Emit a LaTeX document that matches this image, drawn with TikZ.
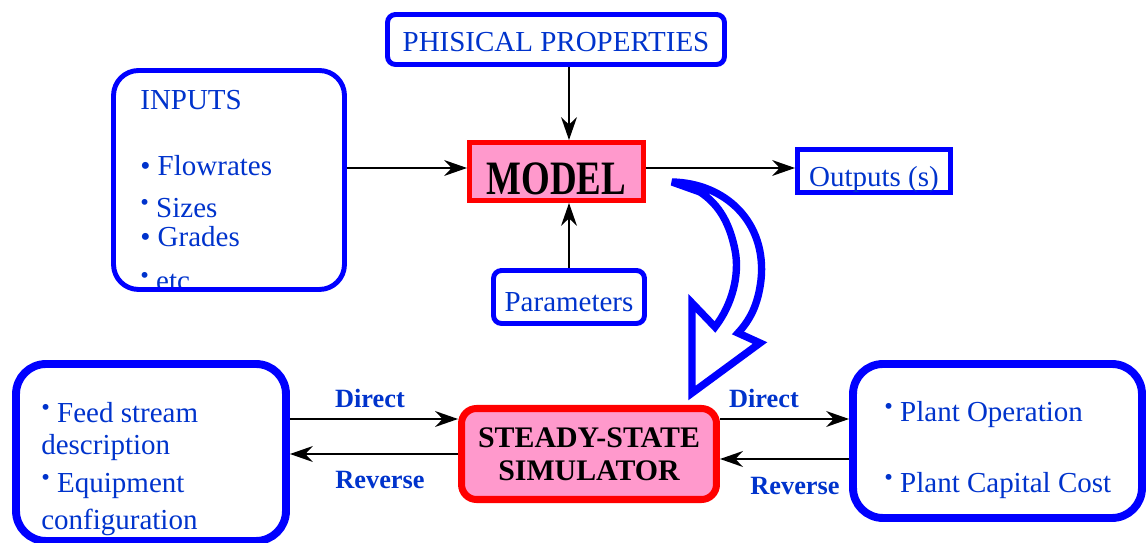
\documentclass[tikz,border=0pt]{standalone}
\usepackage{fontspec}
\setmainfont{Liberation Serif}
\usepackage{tikz}
\usetikzlibrary{arrows.meta,calc,positioning}
\definecolor{frameblue}{RGB}{0,0,255}
\definecolor{txtblue}{RGB}{0,51,204}
\definecolor{simpink}{RGB}{255,153,204}
\newcommand{\hb}{\raisebox{4.5pt}{\fontsize{14}{14}\selectfont\textbullet}}
\newcommand{\bigtxt}{\fontsize{16.5}{20}\selectfont}

\begin{document}
\begin{tikzpicture}[x=0.02cm, y=-0.02cm,
  bluebox/.style={draw=frameblue, line width=2.8pt, text=txtblue, font=\bigtxt, inner sep=0pt, text depth=0pt},
  thickbox/.style={draw=frameblue, line width=4.5pt, rounded corners=0.6cm, inner sep=0pt},
  redbox/.style={draw=red, fill=simpink, inner sep=0pt},
  boxtxt/.style={text=txtblue, font=\bigtxt, inner sep=0pt, anchor=base west},
  arr/.style={-{Stealth[length=13pt,width=9pt]}, line width=1.3pt},
  lbl/.style={text=txtblue, font=\fontsize{15}{18}\selectfont\bfseries}]
\useasboundingbox (0,0) rectangle (1146,543);

% upper part
\node[bluebox, rounded corners=0.16cm, minimum width=6.74cm, minimum height=1.0cm, text height=14.2pt] (phys) at (556,39.5) {PHISICAL PROPERTIES};
\node[redbox, line width=2.8pt, minimum width=3.48cm, minimum height=1.16cm, text height=26.6pt, text depth=0pt, font=\fontsize{21}{24}\selectfont\bfseries] (model) at (556.5,171.5) {\scalebox{1}[1.3]{MODEL}};
\node[bluebox, minimum width=3.06cm, minimum height=0.86cm, text height=17.5pt] (outputs) at (874,171) {Outputs (s)};
\node[bluebox, rounded corners=0.16cm, minimum width=3.02cm, minimum height=1.06cm, text height=17pt] (params) at (569,297) {Parameters};

\node[boxtxt] (in0) at (140,110) {INPUTS};
\node[boxtxt] (in1) at (140,176) {\textbullet\ Flowrates};
\node[boxtxt] (in2) at (140,218) {\hb\ Sizes};
\node[boxtxt] (in3) at (140,247) {\textbullet\ Grades};
\node[boxtxt] (in4) at (140,291) {\hb\ etc.};
\node[bluebox, rounded corners=0.5cm, minimum width=4.62cm, minimum height=4.38cm] (inputs) at (229,180) {};

\draw[arr] (phys.south -| params.north) -- (model.north -| params.north);
\draw[arr] (params.north) -- (model.south -| params.north);
\draw[arr] (inputs.east |- 0,168) -- (model.west |- 0,168);
\draw[arr] (model.east |- 0,168) -- (outputs.west |- 0,168);

% hollow arrow
\draw[frameblue, line width=4.2pt, line join=miter, miter limit=6]
  (672,182) .. controls (725,183) and (767,222) .. (761,280)
  .. controls (758,305) and (750,320) .. (738,333) -- (760,343) -- (692,393) -- (692,303) -- (715,327)
  .. controls (732,305) and (740,275) .. (735,250)
  .. controls (730,225) and (720,205) .. (700,192) -- cycle;

% lower part
\node[thickbox, minimum width=5.4cm, minimum height=3.54cm] (feed) at (151,452.5) {};
\node[thickbox, minimum width=5.78cm, minimum height=3.08cm] (plant) at (997.5,441) {};
\node[redbox, line width=4pt, rounded corners=0.3cm, minimum width=5.1cm, minimum height=1.82cm, align=center, font=\fontsize{17}{19}\selectfont\bfseries] (sim) at (589,454) {STEADY-STATE\\SIMULATOR};

\node[boxtxt] (f1) at (41,423) {\hb\ Feed stream};
\node[boxtxt] (f2) at (41,455) {description};
\node[boxtxt] (f3) at (41,493) {\hb\ Equipment};
\node[boxtxt] (f4) at (41,530) {configuration};
\node[boxtxt] (p1) at (884,422) {\hb\ Plant Operation};
\node[boxtxt] (p2) at (884,493) {\hb\ Plant Capital Cost};

\draw[arr] (feed.east |- 0,419) -- (sim.west |- 0,419);
\draw[arr] (sim.west |- 0,454) -- (feed.east |- 0,454);
\draw[arr] (sim.east |- 0,419) -- (plant.west |- 0,419);
\draw[arr] (plant.west |- 0,459) -- (sim.east |- 0,459);

\node[lbl] (d1) at (370,398) {Direct};
\node[lbl] (r1) at (380,480) {Reverse};
\node[lbl] (d2) at (764,398) {Direct};
\node[lbl] (r2) at (795,486) {Reverse};
\end{tikzpicture}
\end{document}
